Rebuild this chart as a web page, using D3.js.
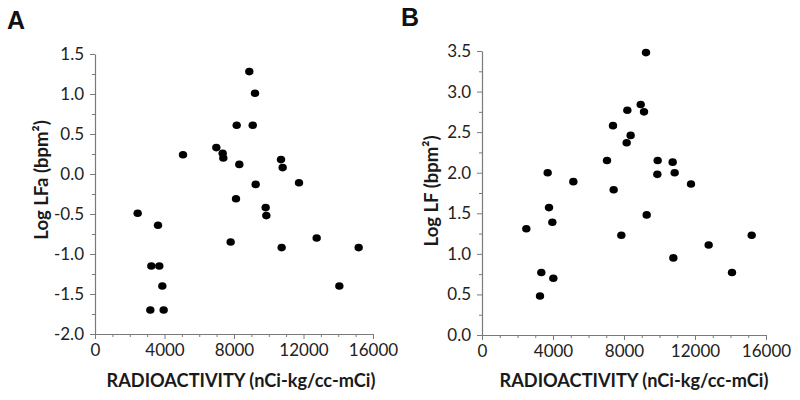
<!DOCTYPE html>
<html><head><meta charset="utf-8">
<script src="https://cdn.jsdelivr.net/npm/d3@7"></script>
<style>
body{margin:0;background:#fff;}
svg{display:block;}
</style></head>
<body>
<svg id="chart" width="800" height="400"></svg>
<script>
const xTicks = [0, 4000, 8000, 12000, 16000];
const yTicksA = [-2.0, -1.5, -1.0, -0.5, 0.0, 0.5, 1.0, 1.5];
const yTicksB = [0.0, 0.5, 1.0, 1.5, 2.0, 2.5, 3.0, 3.5];
const radioA = [8880, 9209, 8155, 9076, 5065, 6983, 7348, 7386, 8306, 10705, 10801, 9248, 11741, 8115,
  2456, 3626, 9823, 9861, 7808, 10743, 12758, 15175, 3242, 3702, 3875, 14063, 3184, 3952];
const logLFa = [1.28, 1.01, 0.61, 0.61, 0.24, 0.33, 0.26, 0.20, 0.12, 0.18, 0.08, -0.13, -0.11, -0.31,
  -0.49, -0.64, -0.42, -0.52, -0.85, -0.92, -0.80, -0.92, -1.15, -1.15, -1.40, -1.40, -1.70, -1.70];
const radioB = [9239, 8941, 9127, 8188, 7380, 8375, 8150, 7042, 9897, 10742, 9878, 10855, 3700, 5146,
  7418, 11775, 3775, 3963, 2497, 9278, 7850, 15194, 12770, 10780, 3342, 14085, 4019, 3268];
const logLF = [3.48, 2.84, 2.75, 2.77, 2.58, 2.46, 2.37, 2.15, 2.15, 2.13, 1.98, 2.00, 2.00, 1.89,
  1.79, 1.86, 1.57, 1.39, 1.31, 1.48, 1.23, 1.23, 1.11, 0.95, 0.77, 0.77, 0.70, 0.48];

const panels = [
  {letter: "A", lx: 7, ly: 29, xr: [95, 373], yr: [334, 54], yd: [-2, 1.5], yt: yTicksA,
   xs: radioA, ys: logLFa, ytitle: "Log LFa (bpm²)", ytx: 41, ytitleY: 180, xtitleX: 241},
  {letter: "B", lx: 401, ly: 26, xr: [482, 766], yr: [335, 51], yd: [0, 3.5], yt: yTicksB,
   xs: radioB, ys: logLF, ytitle: "Log LF (bpm²)", ytx: 431, ytitleY: 191, xtitleX: 634}
];

const svg = d3.select("#chart");
const font = "Lato, 'Open Sans', sans-serif";
const axisCol = "#7a7a7a";

panels.forEach(p => {
  const x = d3.scaleLinear().domain([0, 16000]).range(p.xr);
  const y = d3.scaleLinear().domain(p.yd).range(p.yr);
  const g = svg.append("g");

  const xMinor = d3.range(0, 16001, 1000).filter(v => v % 4000 !== 0);
  const yMinor = d3.range(p.yd[0] + 0.25, p.yd[1], 0.5);
  g.append("g").attr("transform", `translate(0,${p.yr[0]})`)
    .call(d3.axisBottom(x).tickValues(xMinor).tickSize(3).tickFormat(""))
    .call(s => { s.select(".domain").remove(); s.selectAll("line").attr("stroke", axisCol); });
  g.append("g").attr("transform", `translate(${p.xr[0]},0)`)
    .call(d3.axisLeft(y).tickValues(yMinor).tickSize(3).tickFormat(""))
    .call(s => { s.select(".domain").remove(); s.selectAll("line").attr("stroke", axisCol); });

  g.append("g").attr("transform", `translate(0,${p.yr[0]})`)
    .call(d3.axisBottom(x).tickValues(xTicks).tickSize(5).tickSizeOuter(0).tickPadding(5).tickFormat(d3.format("d")))
    .call(s => {
      s.select(".domain").attr("stroke", axisCol).attr("stroke-width", 1.2);
      s.selectAll("line").attr("stroke", axisCol);
      s.selectAll("text").attr("font-family", font).attr("font-size", 17).attr("fill", "#222");
    });
  g.append("g").attr("transform", `translate(${p.xr[0]},0)`)
    .call(d3.axisLeft(y).tickValues(p.yt).tickSize(5).tickSizeOuter(0).tickPadding(6).tickFormat(d3.format(".1f")))
    .call(s => {
      s.select(".domain").attr("stroke", axisCol).attr("stroke-width", 1.2);
      s.selectAll("line").attr("stroke", axisCol);
      s.selectAll("text").attr("font-family", font).attr("font-size", 17).attr("fill", "#222")
        .text(d => d3.format(".1f")(d).replace("−", "-"));
    });

  g.append("g").selectAll("ellipse").data(p.xs.map((v, i) => [v, p.ys[i]])).join("ellipse")
    .attr("cx", d => x(d[0])).attr("cy", d => y(d[1]))
    .attr("rx", 4.2).attr("ry", 3.8).attr("fill", "#000");

  g.append("text").attr("x", p.lx).attr("y", p.ly).text(p.letter)
    .attr("font-family", "'Liberation Sans', Arial, sans-serif").attr("font-weight", "bold")
    .attr("font-size", 25).attr("fill", "#111");
  g.append("text").attr("transform", `translate(${p.ytx},${p.ytitleY}) rotate(-90)`)
    .attr("text-anchor", "middle").attr("dominant-baseline", "central")
    .attr("font-family", font).attr("font-weight", "bold").attr("font-size", 18.5).attr("fill", "#1a1a1a")
    .text(p.ytitle);
  g.append("text").attr("x", p.xtitleX).attr("y", 387).attr("text-anchor", "middle")
    .attr("font-family", font).attr("font-weight", "bold").attr("font-size", 18.2).attr("fill", "#1a1a1a")
    .text("RADIOACTIVITY (nCi-kg/cc-mCi)");
});
</script>
</body></html>
